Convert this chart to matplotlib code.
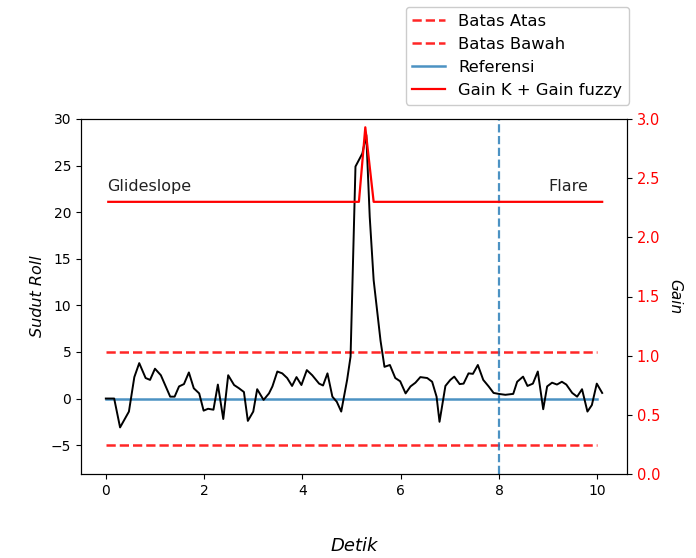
import numpy as np
import matplotlib
matplotlib.use("Agg")
import matplotlib.pyplot as plt

# roll angle (deg), time in seconds
detik = [0.00, 0.17, 0.29, 0.47, 0.58, 0.68, 0.81, 0.90, 1.00, 1.12,
         1.31, 1.40, 1.49, 1.59, 1.69, 1.79, 1.90, 1.99, 2.08, 2.19,
         2.28, 2.39, 2.49, 2.61, 2.71, 2.81, 2.89, 3.00, 3.08, 3.21,
         3.32, 3.39, 3.49, 3.59, 3.69, 3.79, 3.88, 3.98, 4.09, 4.20,
         4.34, 4.42, 4.51, 4.61, 4.70, 4.79, 4.91, 4.98, 5.08, 5.22,
         5.30, 5.37, 5.45, 5.59, 5.67, 5.78, 5.89, 5.99, 6.10, 6.20,
         6.30, 6.40, 6.54, 6.64, 6.73, 6.79, 6.91, 7.01, 7.09, 7.20,
         7.28, 7.38, 7.47, 7.57, 7.68, 7.79, 7.89, 7.99, 8.13, 8.29,
         8.37, 8.49, 8.58, 8.69, 8.79, 8.90, 8.98, 9.08, 9.18, 9.28,
         9.37, 9.49, 9.59, 9.69, 9.80, 9.89, 9.99, 10.10]
sudut_roll = [0.0, 0.0, -3.1, -1.4, 2.3, 3.8, 2.2, 2.0, 3.2, 2.5,
              0.2, 0.2, 1.3, 1.55, 2.8, 1.1, 0.55, -1.3, -1.1, -1.2,
              1.5, -2.2, 2.5, 1.45, 1.1, 0.7, -2.4, -1.4, 1.0, -0.15,
              0.55, 1.3, 2.9, 2.7, 2.2, 1.35, 2.3, 1.45, 3.05, 2.5,
              1.6, 1.4, 2.7, 0.2, -0.35, -1.4, 2.0, 4.5, 24.9, 26.3,
              28.3, 19.5, 12.7, 6.2, 3.4, 3.6, 2.2, 1.85, 0.55, 1.3,
              1.7, 2.3, 2.2, 1.8, 0.2, -2.5, 1.35, 2.0, 2.35, 1.55,
              1.6, 2.7, 2.65, 3.6, 2.0, 1.3, 0.6, 0.5, 0.4, 0.5,
              1.8, 2.35, 1.35, 1.6, 2.9, -1.15, 1.3, 1.7, 1.5, 1.8,
              1.5, 0.6, 0.2, 1.0, -1.4, -0.7, 1.6, 0.6]

# gain K + gain fuzzy
gain_t = [0.05, 5.15, 5.28, 5.45, 10.10]
gain = [2.3, 2.3, 2.93, 2.3, 2.3]

batas_atas = 5
batas_bawah = -5
referensi = 0
t_flare = 8

fig = plt.figure(figsize=(6.96, 5.58), dpi=100)
ax = fig.add_axes([81/696, 84/558, 546/696, 355/558])
ax2 = ax.twinx()

l1, = ax.plot([0, 10], [batas_atas, batas_atas], 'r--', lw=1.8, alpha=0.85, label='Batas Atas')
l2, = ax.plot([0, 10], [batas_bawah, batas_bawah], 'r--', lw=1.8, alpha=0.85, label='Batas Bawah')
l3, = ax.plot([0, 10], [referensi, referensi], color='tab:blue', lw=1.8, alpha=0.8, label='Referensi')
ax.plot(detik, sudut_roll, color='k', lw=1.4)
ax.axvline(t_flare, color='tab:blue', ls='--', lw=1.6, alpha=0.8)
ax.text(0.03, 22.3, 'Glideslope', fontsize=11.5, color='#222222')
ax.text(9.0, 22.3, 'Flare', fontsize=11.5, color='#222222')

l4, = ax2.plot(gain_t, gain, color='red', lw=1.6, label='Gain K + Gain fuzzy')

ax.set_xlim(-0.505, 10.605)
ax.set_ylim(-8.1, 30)
ax2.set_ylim(0, 3)
ax.set_xticks([0, 2, 4, 6, 8, 10])
ax.set_yticks([-5, 0, 5, 10, 15, 20, 25, 30])
ax.tick_params(labelsize=10)
ax2.tick_params(axis='y', labelsize=10.5, labelcolor='red')

ax.set_xlabel('Detik', fontsize=13, style='italic', labelpad=28)
ax.set_ylabel('Sudut Roll', fontsize=11.5, style='italic')
ax2.set_ylabel('Gain', fontsize=11, style='italic', rotation=270, labelpad=16)

fig.legend(handles=[l1, l2, l3, l4], loc='upper right',
           bbox_to_anchor=(629/696, 1 - 7/558), borderaxespad=0,
           fontsize=11.8, framealpha=1)

fig.savefig('out.png', dpi=100)
